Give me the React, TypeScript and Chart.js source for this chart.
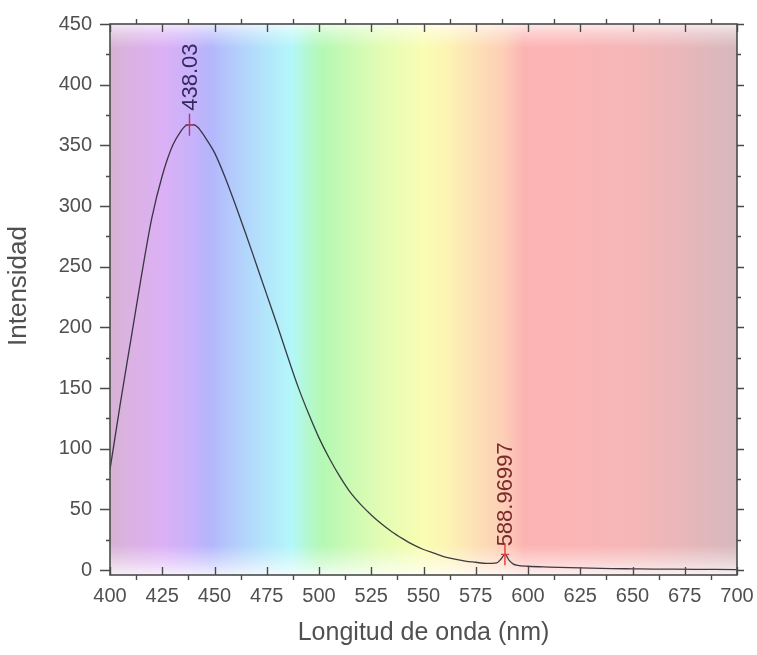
import React, { useEffect, useRef } from "react";
import { Chart, registerables } from "chart.js";

Chart.register(...registerables);

// ---- data ----
const wavelengths = [
  400, 405, 410, 415, 420, 425, 430, 434, 436, 438, 440, 442, 445, 450, 455, 460, 465, 470, 475, 480,
  485, 490, 495, 500, 505, 510, 515, 520, 525, 530, 535, 540, 545, 550, 555, 560, 565, 570, 575, 580,
  585, 587, 589, 591, 593, 595, 600, 610, 620, 630, 640, 650, 660, 670, 680, 690, 700,
];
const intensity = [
  83, 138, 190, 242, 290, 325, 350, 362, 366, 367, 367, 365, 358, 344, 324, 301, 277, 252, 227, 202,
  176, 151, 129, 109, 92, 77, 64, 54, 45.5, 38, 31.5, 26, 21, 17, 14, 11, 9, 7.5, 6.5, 5.5,
  6, 9, 13, 8, 5, 4, 3.2, 2.5, 2, 1.6, 1.3, 1.1, 0.9, 0.8, 0.7, 0.6, 0.5,
];

const xTickValues = [400, 425, 450, 475, 500, 525, 550, 575, 600, 625, 650, 675, 700];
const yTickValues = [0, 50, 100, 150, 200, 250, 300, 350, 400, 450];

const peakWavelengths = [438.03, 588.96997];
const peakIntensities = [367, 13];
const peakLabels = ["438.03", "588.96997"];

const xTitle = "Longitud de onda (nm)";
const yTitle = "Intensidad";

const spectrumStops = [400, 410, 425, 440, 448, 460, 475, 487, 495, 502, 515, 530, 550, 562, 575, 588, 598, 620, 650, 675, 700];
const spectrumColors = [
  "#d6b3d3", "#dbb2e3", "#dcb0f5", "#c6b2fb", "#b4b6fc", "#b3cdfb", "#b3e6fb", "#b3f7fa", "#b3f8cd",
  "#b5f8b3", "#cbfab3", "#e3fcb3", "#fafdb3", "#fdf3b3", "#fde0b6", "#fdcfb7", "#fcb4b3", "#fbb4b4",
  "#f5b6b7", "#e8b7ba", "#d6b8bd",
];

const FONT = "'Liberation Sans', Arial, sans-serif";
const TEXT_COLOR = "#505050";
const AXIS_COLOR = "#4a4a4a";

const spectrumPlugin = {
  id: "spectrumBackground",
  beforeDatasetsDraw(chart: any) {
    const { ctx, chartArea, scales } = chart;
    const { left, top, right, bottom } = chartArea;
    const x = scales.x;
    const x0 = x.getPixelForValue(spectrumStops[0]);
    const x1 = x.getPixelForValue(spectrumStops[spectrumStops.length - 1]);
    ctx.save();
    const g = ctx.createLinearGradient(x0, 0, x1, 0);
    spectrumStops.forEach((nm, i) => {
      const t = (x.getPixelForValue(nm) - x0) / (x1 - x0);
      g.addColorStop(Math.min(1, Math.max(0, t)), spectrumColors[i]);
    });
    ctx.fillStyle = g;
    ctx.fillRect(left, top, right - left, bottom - top);
    const tg = ctx.createLinearGradient(0, top, 0, top + 24);
    tg.addColorStop(0, "rgba(255,255,255,0.7)");
    tg.addColorStop(0.4, "rgba(255,255,255,0.35)");
    tg.addColorStop(1, "rgba(255,255,255,0)");
    ctx.fillStyle = tg;
    ctx.fillRect(left, top, right - left, 24);
    const bh = 30;
    const bg = ctx.createLinearGradient(0, bottom - bh, 0, bottom);
    bg.addColorStop(0, "rgba(255,255,255,0)");
    bg.addColorStop(0.6, "rgba(255,255,255,0.45)");
    bg.addColorStop(1, "rgba(255,255,255,0.8)");
    ctx.fillStyle = bg;
    ctx.fillRect(left, bottom - bh, right - left, bh);
    ctx.restore();
  },
};

const framePlugin = {
  id: "frameAndPeaks",
  afterDatasetsDraw(chart: any) {
    const { ctx, chartArea, scales } = chart;
    const { left, top, right, bottom } = chartArea;
    const x = scales.x;
    const y = scales.y;
    ctx.save();
    ctx.strokeStyle = AXIS_COLOR;
    ctx.lineWidth = 1.6;
    ctx.strokeRect(left, top, right - left, bottom - top);
    ctx.lineWidth = 1.4;
    ctx.beginPath();
    for (let i = 0; i < xTickValues.length; i++) {
      const px = Math.round(x.getPixelForValue(xTickValues[i])) + 0.5;
      ctx.moveTo(px, bottom);
      ctx.lineTo(px, bottom - 8);
      ctx.moveTo(px, top);
      ctx.lineTo(px, top + 8);
      if (i < xTickValues.length - 1) {
        const mx = Math.round(x.getPixelForValue((xTickValues[i] + xTickValues[i + 1]) / 2)) + 0.5;
        ctx.moveTo(mx, bottom);
        ctx.lineTo(mx, bottom + 5);
        ctx.moveTo(mx, top);
        ctx.lineTo(mx, top - 5);
      }
    }
    for (let i = 0; i < yTickValues.length; i++) {
      const py = Math.round(y.getPixelForValue(yTickValues[i])) + 0.5;
      ctx.moveTo(left, py);
      ctx.lineTo(left - 10, py);
      ctx.moveTo(right, py);
      ctx.lineTo(right + 7, py);
      if (i < yTickValues.length - 1) {
        const my = Math.round(y.getPixelForValue((yTickValues[i] + yTickValues[i + 1]) / 2)) + 0.5;
        ctx.moveTo(left, my);
        ctx.lineTo(left - 4, my);
        ctx.moveTo(right, my);
        ctx.lineTo(right + 4, my);
      }
    }
    ctx.stroke();

    const markerColors = ["#a43a6e", "#e03a3a"];
    const labelColors = ["#33295e", "#7a2b2b"];
    const gaps = [14, 8];
    peakWavelengths.forEach((nm, i) => {
      const px = x.getPixelForValue(nm);
      const py = y.getPixelForValue(peakIntensities[i]);
      ctx.strokeStyle = markerColors[i];
      ctx.lineWidth = 1.4;
      ctx.beginPath();
      ctx.moveTo(px, py - 11);
      ctx.lineTo(px, py + 11);
      ctx.moveTo(px - 4, py);
      ctx.lineTo(px + 4, py);
      ctx.stroke();
      ctx.save();
      ctx.translate(px + 1, py - gaps[i]);
      ctx.rotate(-Math.PI / 2);
      ctx.fillStyle = labelColors[i];
      ctx.font = `22px ${FONT}`;
      ctx.textAlign = "left";
      ctx.textBaseline = "middle";
      ctx.fillText(peakLabels[i], 0, 0);
      ctx.restore();
    });

    // y axis title
    ctx.save();
    ctx.translate(18.5, 286);
    ctx.rotate(-Math.PI / 2);
    ctx.fillStyle = TEXT_COLOR;
    ctx.font = `26px ${FONT}`;
    ctx.textAlign = "center";
    ctx.textBaseline = "middle";
    ctx.fillText(yTitle, 0, 0);
    ctx.restore();

    ctx.restore();
  },
};

export default function App() {
  const canvasRef = useRef<HTMLCanvasElement | null>(null);

  useEffect(() => {
    if (!canvasRef.current) return;
    const chart = new Chart(canvasRef.current, {
      type: "line",
      data: {
        datasets: [
          {
            label: yTitle,
            data: wavelengths.map((w, i) => ({ x: w, y: intensity[i] })),
            borderColor: "rgba(35,35,45,0.88)",
            borderWidth: 1.3,
            pointRadius: 0,
            cubicInterpolationMode: "monotone",
            fill: false,
          },
        ],
      },
      options: {
        animation: false,
        responsive: false,
        maintainAspectRatio: false,
        layout: { padding: { top: 24, right: 20, left: 0, bottom: 0 } },
        plugins: {
          legend: { display: false },
          tooltip: { enabled: false },
        },
        scales: {
          x: {
            type: "linear",
            min: 400,
            max: 700,
            afterBuildTicks: (scale: any) => {
              scale.ticks = xTickValues.map((v) => ({ value: v }));
            },
            afterFit: (scale: any) => {
              scale.height = 80;
              scale.paddingLeft = 0;
              scale.paddingRight = 0;
            },
            grid: { display: false, drawTicks: false },
            border: { display: false },
            ticks: {
              padding: 9,
              maxRotation: 0,
              autoSkip: false,
              color: TEXT_COLOR,
              font: { family: FONT, size: 20 },
            },
            title: {
              display: true,
              text: xTitle,
              color: TEXT_COLOR,
              font: { family: FONT, size: 25 },
              padding: { top: 0, bottom: 7 },
            },
          },
          y: {
            type: "linear",
            min: -4,
            max: 450,
            afterBuildTicks: (scale: any) => {
              scale.ticks = yTickValues.map((v) => ({ value: v }));
            },
            afterFit: (scale: any) => {
              scale.width = 110;
              scale.paddingTop = 0;
              scale.paddingBottom = 0;
            },
            grid: { display: false, drawTicks: false },
            border: { display: false },
            ticks: {
              padding: 18,
              autoSkip: false,
              color: TEXT_COLOR,
              font: { family: FONT, size: 20 },
            },
            title: { display: false, text: yTitle },
          },
        },
      },
      plugins: [spectrumPlugin, framePlugin],
    });
    return () => chart.destroy();
  }, []);

  return (
    <div style={{ position: "fixed", left: 0, top: 0, width: 757, height: 655, background: "#fff" }}>
      <canvas ref={canvasRef} width={757} height={655} style={{ width: 757, height: 655, display: "block" }} />
    </div>
  );
}
